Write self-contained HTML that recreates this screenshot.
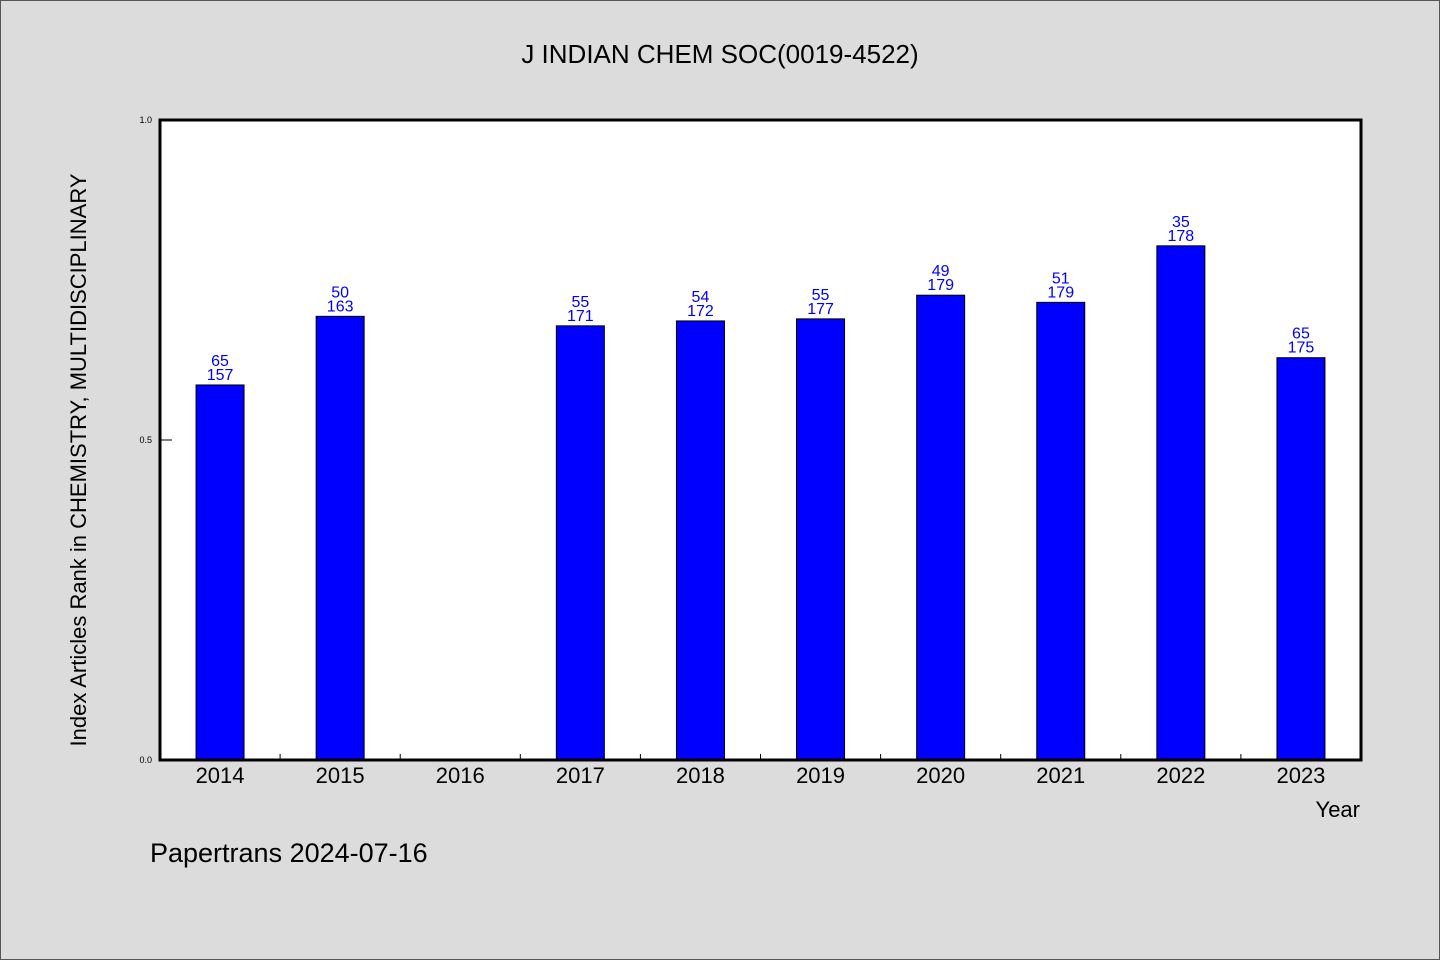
<!DOCTYPE html>
<html><head><meta charset="utf-8"><style>
html,body{margin:0;padding:0;background:#dcdcdc;}
svg{display:block;font-family:"WenQuanYi Zen Hei","Liberation Sans",sans-serif;}
</style></head><body>
<svg width="1440" height="960" viewBox="0 0 1440 960">
<rect x="0.5" y="0.5" width="1439" height="959" fill="#dcdcdc" stroke="#555"/>
<text x="720" y="63" font-size="26" text-anchor="middle" fill="#000">J INDIAN CHEM SOC(0019-4522)</text>
<rect x="160" y="120" width="1201" height="640" fill="#fff"/>
<g id="bars"></g>
<rect x="160" y="120" width="1201" height="640" fill="none" stroke="#000" stroke-width="3"/>
<g id="axes"></g>
<text transform="translate(86,460) rotate(-90)" font-size="22" text-anchor="middle" fill="#000">Index Articles Rank in CHEMISTRY, MULTIDISCIPLINARY</text>
<text x="1360" y="817" font-size="22" text-anchor="end" fill="#000">Year</text>
<text x="150" y="862" font-size="27" fill="#000">Papertrans 2024-07-16</text>
</svg>
<script>
const years=["2014","2015","2016","2017","2018","2019","2020","2021","2022","2023"];
const ranks=[65,50,null,55,54,55,49,51,35,65];
const totals=[157,163,null,171,172,177,179,179,178,175];
const yTicks=[0,0.5,1.0];
const yTickLabels=["0.0","0.5","1.0"];
const NS="http://www.w3.org/2000/svg";
const x0=160,x1=1361,y0=760,y1=120;
const step=(x1-x0)/years.length;
const xC=i=>x0+step*(i+0.5);
const yS=v=>y0-(y0-y1)*v;
function mk(t,a,p){const e=document.createElementNS(NS,t);for(const k in a)e.setAttribute(k,a[k]);p.appendChild(e);return e;}
const bars=document.getElementById('bars'),axes=document.getElementById('axes');
years.forEach((yr,i)=>{
  if(ranks[i]!=null){
    const v=1-ranks[i]/totals[i];
    const r=mk('rect',{x:xC(i)-24,y:yS(v),width:48,height:y0-yS(v),fill:'#0000ff',stroke:'#000','stroke-width':1},bars);
    
    
    const t1=mk('text',{x:xC(i),y:yS(v)-19,'font-size':16,'text-anchor':'middle',fill:'#0000ff'},bars);
    t1.textContent=ranks[i];
    
    
    const t2=mk('text',{x:xC(i),y:yS(v)-5,'font-size':16,'text-anchor':'middle',fill:'#0000ff'},bars);
    t2.textContent=totals[i];
    
    
  }
  const xl=mk('text',{x:xC(i),y:783,'font-size':22,'text-anchor':'middle',fill:'#000'},axes);
  xl.textContent=yr;
  
  
  if(i>0){
    const tk=mk('line',{x1:x0+step*i,x2:x0+step*i,y1:y0,y2:y0-6,stroke:'#000','stroke-width':1},axes);
    
    
  }
});
yTicks.forEach((v,i)=>{
  const l=mk('text',{x:152,y:yS(v)+3,'font-size':9,'text-anchor':'end',fill:'#000'},axes);
  l.textContent=yTickLabels[i];
  
  
  if(v>0&&v<1){
    const tk=mk('line',{x1:x0,x2:x0+12,y1:yS(v),y2:yS(v),stroke:'#000','stroke-width':1},axes);
    
    
  }
});
</script>
</body></html>
